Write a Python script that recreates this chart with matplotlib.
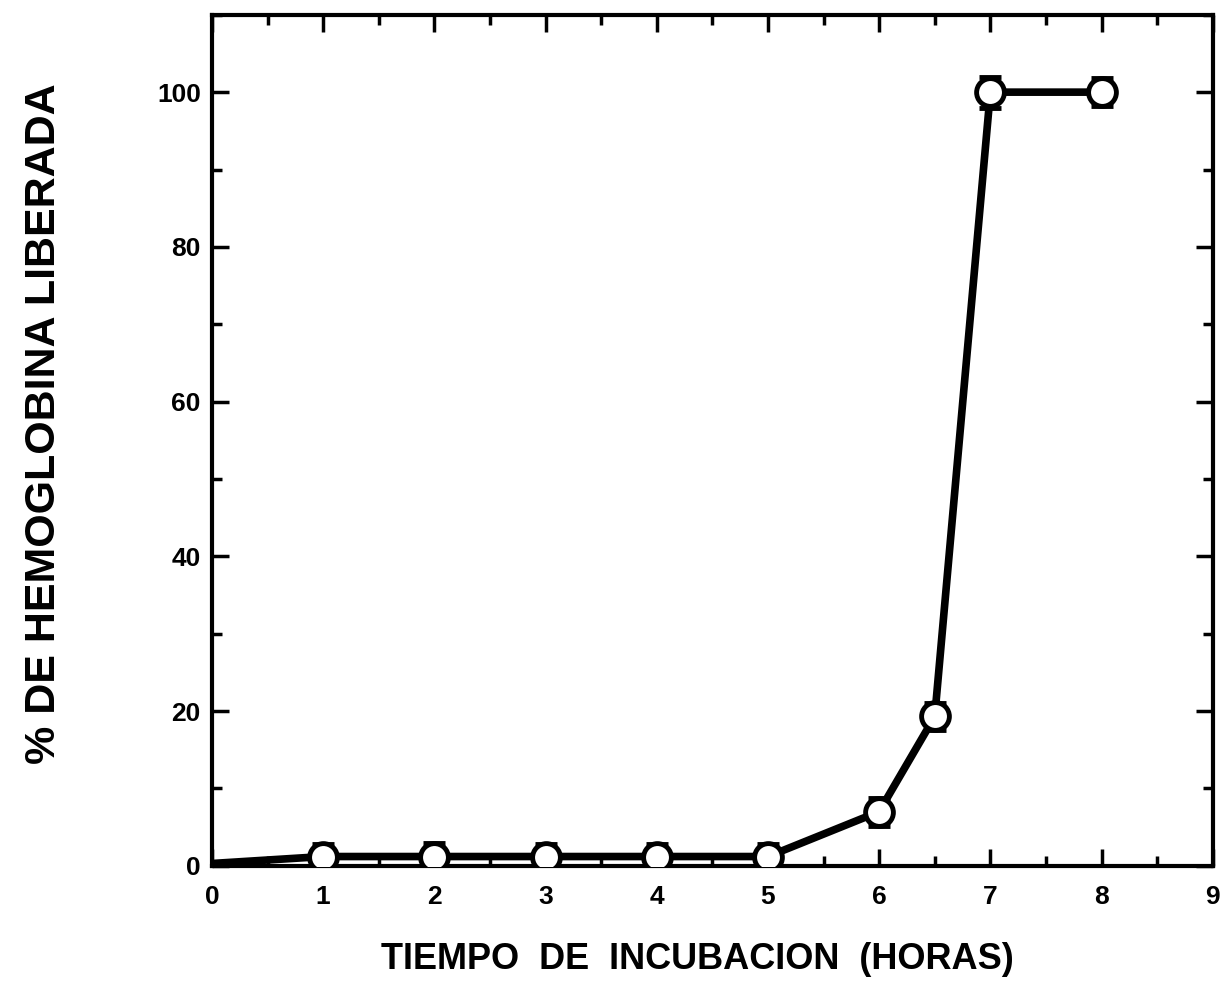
import numpy as np
import matplotlib
matplotlib.use("Agg")
import matplotlib.pyplot as plt
from matplotlib.ticker import MultipleLocator

# datos
tiempo = [0, 1, 2, 3, 4, 5, 6, 6.5, 7, 8]
hemoglobina = [0.3, 1.2, 1.2, 1.2, 1.2, 1.2, 7.0, 19.3, 100.0, 100.0]
error = [0, 1.6, 1.8, 1.6, 1.6, 1.6, 1.8, 1.8, 2.0, 1.8]

plt.rcParams['font.family'] = ['Liberation Sans', 'DejaVu Sans']
plt.rcParams['font.weight'] = 'bold'
plt.rcParams['axes.labelweight'] = 'bold'

fig = plt.figure(figsize=(12.25, 9.85), dpi=100)
ax = fig.add_axes([0.173, 0.121, 0.817, 0.864])

# linea desde el origen, sin marcador
ax.plot(tiempo, hemoglobina, color="black", lw=5.5, solid_capstyle="round",
        solid_joinstyle="round", zorder=2)
ax.errorbar(tiempo[1:], hemoglobina[1:], yerr=error[1:], fmt="o", ms=20,
            mfc="white", mec="black", mew=3.5, ecolor="black", elinewidth=3,
            capsize=8, capthick=4, zorder=3)

ax.set_xlim(0, 9)
ax.set_ylim(0, 110)
ax.xaxis.set_major_locator(MultipleLocator(1))
ax.xaxis.set_minor_locator(MultipleLocator(0.5))
ax.set_yticks([0, 20, 40, 60, 80, 100])
ax.yaxis.set_minor_locator(MultipleLocator(10))

ax.tick_params(which="both", direction="in", top=True, right=True, width=2.5)
ax.tick_params(which="major", length=12, labelsize=19, pad=8)
ax.tick_params(axis="x", which="major", pad=14)
ax.tick_params(which="minor", length=7)
for s in ax.spines.values():
    s.set_linewidth(3)

ax.set_xlabel("TIEMPO  DE  INCUBACION  (HORAS)", fontsize=26)
ax.set_ylabel("% DE HEMOGLOBINA LIBERADA", fontsize=31)
ax.xaxis.set_label_coords(0.485, -0.09)
ax.yaxis.set_label_coords(-0.148, 0.52)

fig.savefig("out.png", dpi=100)
